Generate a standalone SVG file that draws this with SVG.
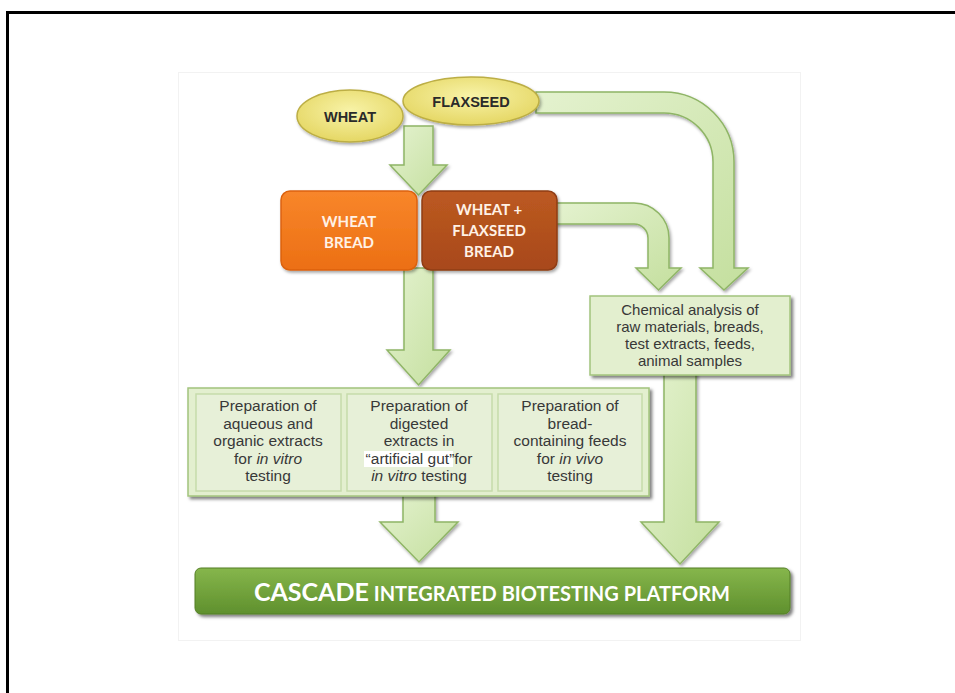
<svg xmlns="http://www.w3.org/2000/svg" width="955" height="693" viewBox="0 0 955 693">
<style>
.arrow{fill:url(#arrowGrad);stroke:#8fb566;stroke-width:1.5;stroke-linejoin:miter;filter:url(#sh)}
.ell{fill:url(#yellowGrad);stroke:#bcae45;stroke-width:1.5;filter:url(#sh)}
.ellt{font-family:"Liberation Sans",Arial,sans-serif;font-weight:bold;font-size:14.5px;fill:#2a2a2a;text-anchor:middle}
.bt{font-family:Lato,"Liberation Sans",sans-serif;font-weight:bold;font-size:15px;fill:#fff2e6;text-anchor:middle}
.gbox{fill:#e3efcf;stroke:#a3c47d;stroke-width:1.5;filter:url(#sh2)}
.ibox{fill:#e7f0d8;stroke:#c6dbab;stroke-width:1.5}
.t{font-family:"Liberation Sans",Arial,sans-serif;font-size:15.5px;fill:#383838;text-anchor:middle}
.c{font-size:15px}
.i{font-style:italic}
</style>
<defs>
<linearGradient id="arrowGrad" x1="0" y1="0" x2="1" y2="1">
<stop offset="0" stop-color="#e4f2cf"/>
<stop offset="1" stop-color="#c4df9e"/>
</linearGradient>
<radialGradient id="yellowGrad" cx="0.5" cy="0.4" r="0.6">
<stop offset="0" stop-color="#f8f3a8"/>
<stop offset="1" stop-color="#e5d764"/>
</radialGradient>
<linearGradient id="orangeGrad" x1="0" y1="0" x2="0" y2="1">
<stop offset="0" stop-color="#f8862a"/>
<stop offset="1" stop-color="#ec6f14"/>
</linearGradient>
<linearGradient id="brownGrad" x1="0" y1="0" x2="0" y2="1">
<stop offset="0" stop-color="#bc5a21"/>
<stop offset="1" stop-color="#a8481a"/>
</linearGradient>
<linearGradient id="greenGrad" x1="0" y1="0" x2="0" y2="1">
<stop offset="0" stop-color="#86b64c"/>
<stop offset="1" stop-color="#5f902d"/>
</linearGradient>
<filter id="sh" x="-20%" y="-20%" width="140%" height="140%">
<feDropShadow dx="1.5" dy="2" stdDeviation="1.5" flood-color="#000" flood-opacity="0.35"/>
</filter>
<filter id="sh2" x="-10%" y="-10%" width="120%" height="130%">
<feDropShadow dx="2.5" dy="2.5" stdDeviation="1.5" flood-color="#000" flood-opacity="0.5"/>
</filter>
</defs>
<rect width="955" height="693" fill="#ffffff"/>
<path d="M7.5 693 V12.5 H955" fill="none" stroke="#000" stroke-width="3"/>
<rect x="178.5" y="72.5" width="622" height="568" fill="none" stroke="#f2f2f2" stroke-width="1"/>

<g id="connectors">
<path class="arrow" d="M536 92 H664 A70 70 0 0 1 734 162 V268 H748 L724 290 L700 268 H713 V162 A49 49 0 0 0 664 113 H536 Z"/>
<path class="arrow" d="M555 203 H634 A35 35 0 0 1 669 238 V268 H681 L658.5 290 L636 268 H648 V238 A14 14 0 0 0 634 224 H555 Z"/>
<path class="arrow" d="M404 126 H433 V165 H447 L418.5 195 L390 165 H404 Z"/>
<path class="arrow" d="M404 268 H433 V350 H450 L418.5 385 L387 350 H404 Z"/>
<path class="arrow" d="M403 494 H435 V522 H458 L419 562 L380 522 H403 Z"/>
<path class="arrow" d="M664 372 H696 V522 H719 L680 564 L641 522 H664 Z"/>
</g>

<g id="wheat">
<ellipse class="ell" cx="350" cy="116" rx="53" ry="26"/>
<text class="ellt" x="350" y="122">WHEAT</text>
</g>
<g id="flaxseed">
<ellipse class="ell" cx="471" cy="101" rx="68" ry="24"/>
<text class="ellt" x="471" y="107">FLAXSEED</text>
</g>

<g id="wheat-bread">
<rect x="281" y="191" width="136" height="79" rx="9" fill="url(#orangeGrad)" stroke="#dc620e" stroke-width="1.5" filter="url(#sh)"/>
<text class="bt" x="349" y="227">WHEAT</text>
<text class="bt" x="349" y="248">BREAD</text>
</g>
<g id="wheat-flaxseed-bread">
<rect x="422" y="191" width="135" height="79" rx="9" fill="url(#brownGrad)" stroke="#8f3c14" stroke-width="1.5" filter="url(#sh)"/>
<text class="bt" x="489" y="215">WHEAT +</text>
<text class="bt" x="489" y="236">FLAXSEED</text>
<text class="bt" x="489" y="257">BREAD</text>
</g>

<g id="chemical-analysis">
<rect class="gbox" x="590" y="296" width="200" height="79"/>
<text class="t c" x="690" y="315">Chemical analysis of</text>
<text class="t c" x="690" y="332">raw materials, breads,</text>
<text class="t c" x="690" y="349">test extracts, feeds,</text>
<text class="t c" x="690" y="366">animal samples</text>
</g>

<g id="preparation">
<rect class="gbox" x="188" y="388" width="461" height="108"/>
<g id="prep-aqueous">
<rect class="ibox" x="196" y="394" width="145" height="97"/>
<text class="t" x="268" y="411">Preparation of</text>
<text class="t" x="268" y="428.5">aqueous and</text>
<text class="t" x="268" y="446">organic extracts</text>
<text class="t" x="268" y="463.5">for <tspan class="i">in vitro</tspan></text>
<text class="t" x="268" y="481">testing</text>
</g>
<g id="prep-digested">
<rect class="ibox" x="347" y="394" width="145" height="97"/>
<rect x="364" y="451" width="89" height="16" fill="#ffffff"/>
<text class="t" x="419" y="411">Preparation of</text>
<text class="t" x="419" y="428.5">digested</text>
<text class="t" x="419" y="446">extracts in</text>
<text class="t" x="419" y="463.5">“artificial gut”for</text>
<text class="t" x="419" y="481"><tspan class="i">in vitro</tspan> testing</text>
</g>
<g id="prep-feeds">
<rect class="ibox" x="498" y="394" width="144" height="97"/>
<text class="t" x="570" y="411">Preparation of</text>
<text class="t" x="570" y="428.5">bread-</text>
<text class="t" x="570" y="446">containing feeds</text>
<text class="t" x="570" y="463.5">for <tspan class="i">in vivo</tspan></text>
<text class="t" x="570" y="481">testing</text>
</g>
</g>

<g id="cascade">
<rect x="195" y="568" width="595" height="46" rx="6" fill="url(#greenGrad)" stroke="#557f27" stroke-width="1" filter="url(#sh2)"/>
<text x="492" y="601" text-anchor="middle" font-family="Lato,'Liberation Sans',sans-serif" font-weight="bold" fill="#ffffff"><tspan font-size="25px">CASCADE</tspan><tspan font-size="20px"> INTEGRATED BIOTESTING PLATFORM</tspan></text>
</g>
</svg>
